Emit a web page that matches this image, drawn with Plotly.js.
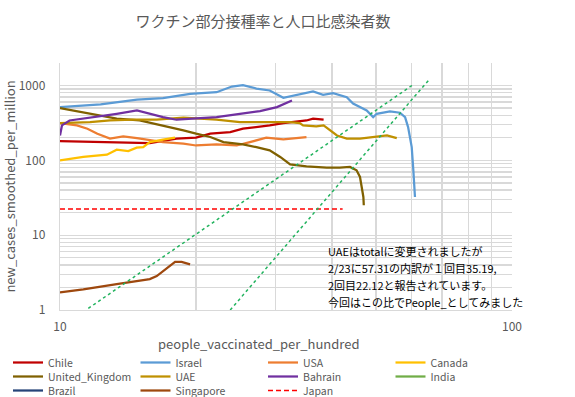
<!DOCTYPE html>
<html>
<head>
<meta charset="utf-8">
<script src="https://cdn.plot.ly/plotly-3.0.1.min.js"></script>
<style>html,body{margin:0;padding:0;background:#fff;}#chart{width:575px;height:397px;}</style>
</head>
<body>
<div id="chart"></div>
<script>
// ---- data ----
const chileX = [10, 12.26, 15.8, 18.1, 20.0, 21.5, 23.8, 25.4, 27.2, 29.1, 31.2, 33.4, 35.1, 36.3, 38.3];
const chileY = [181, 175, 170, 195, 201, 227, 238, 265, 278, 293, 314, 331, 341, 360, 349];

const israelX = [10, 12.3, 14.8, 16.9, 19.4, 22.2, 24.0, 25.4, 27.2, 29.1, 31.2, 33.4, 36.3, 38.2, 40.2, 43.1, 44.5, 47.7, 49.3, 50.2, 53.7, 56.5, 58.0, 58.9, 60.0, 60.5, 61.0];
const israelY = [514, 558, 650, 677, 775, 814, 970, 1009, 912, 858, 685, 751, 832, 751, 789, 698, 575, 464, 378, 419, 450, 433, 378, 278, 150, 73.6, 32.4];

const usaX = [10, 10.9, 11.5, 12.1, 12.9, 13.8, 14.8, 15.8, 16.9, 18.75, 20.0, 22.2, 24.6, 26.3, 28.6, 31.2, 33.9, 35.1];
const usaY = [314, 293, 265, 227, 195, 209, 198, 185, 175, 167, 158, 163, 158, 175, 201, 190, 198, 205];

const canadaX = [10, 11.26, 12.7, 13.35, 14.16, 14.78, 15.28, 15.8, 16.9, 17.97];
const canadaY = [100, 111, 119, 139, 133, 148, 150, 175, 189, 201];

const ukX = [10, 11.65, 13.35, 15.0, 16.9, 18.75, 20.0, 21.5, 23.0, 25.4, 27.2, 29.1, 30.7, 32.3, 35.1, 38.9, 41.6, 43.8, 45.3, 46.1, 46.5, 46.9, 47.0];
const ukY = [498, 419, 360, 341, 293, 251, 227, 205, 175, 163, 150, 136, 111, 88.4, 83, 80, 80, 81.5, 73.6, 60, 44, 32.4, 25.1];

const uaeX = [10, 11.65, 12.9, 14.5, 16.37, 18.75, 20.4, 22.2, 25.0, 28.1, 32.3, 33.9, 34.5, 36.9, 38.3, 41.0, 43.1, 46.1, 50.2, 52.9, 55.6];
const uaeY = [314, 324, 341, 349, 349, 371, 360, 349, 324, 321, 324, 314, 293, 284, 293, 215, 195, 195, 205, 215, 198];

const bahrainX = [10, 10.1, 10.5, 11.65, 13.35, 14.8, 15.8, 16.9, 18.1, 19.7, 22.2, 25.0, 27.7, 30.2, 32.6];
const bahrainY = [215, 293, 341, 371, 419, 464, 419, 378, 349, 360, 378, 419, 454, 514, 631];

// India and Brazil lie left of the visible range (below 10 per hundred), so only their legend entries show
const indiaX = [0.6, 0.9, 1.2];
const indiaY = [9.5, 9.8, 10.3];
const brazilX = [2.5, 3.2, 3.9];
const brazilY = [235, 250, 260];

const singaporeX = [10, 11.26, 13.35, 15.8, 16.37, 17.2, 17.97, 18.58, 19.4];
const singaporeY = [1.72, 1.89, 2.22, 2.59, 2.84, 3.6, 4.4, 4.4, 4.07];

const japanX = [10, 42.2];
const japanY = [22.4, 22.4];

const guideAX = [11.55, 60.5];
const guideAY = [1.05, 1031];
const guideBX = [23.8, 65.3];
const guideBY = [1.0, 1166];

const noteLines = [
  "UAEはtotalに変更されましたが",
  "2/23に57.31の内訳が１回目35.19,",
  "2回目22.12と報告されています。",
  "今回はこの比でPeople_としてみました"
];

// ---- traces ----
function line(name, x, y, color, legend, extra) {
  return Object.assign({type: 'scatter', mode: 'lines', name: name, x: x, y: y, legend: legend,
    line: {color: color, width: 2.25}}, extra || {});
}
const traces = [
  line('Chile', chileX, chileY, '#C00000', 'legend'),
  line('Israel', israelX, israelY, '#5B9BD5', 'legend'),
  line('USA', usaX, usaY, '#ED7D31', 'legend'),
  line('Canada', canadaX, canadaY, '#FFC000', 'legend'),
  line('United_Kingdom', ukX, ukY, '#7F6000', 'legend2'),
  line('UAE', uaeX, uaeY, '#BF9000', 'legend2'),
  line('Bahrain', bahrainX, bahrainY, '#7030A0', 'legend2'),
  line('India', indiaX, indiaY, '#70AD47', 'legend2'),
  line('Brazil', brazilX, brazilY, '#264478', 'legend3'),
  line('Singapore', singaporeX, singaporeY, '#9E480E', 'legend3'),
  line('Japan', japanX, japanY, '#FF0000', 'legend3', {line: {color: '#FF0000', width: 1.5, dash: '5px,3px'}}),
  line('guideA', guideAX, guideAY, '#22B35E', 'legend', {showlegend: false, line: {color: '#22B35E', width: 1.5, dash: '3px,3px'}}),
  line('guideB', guideBX, guideBY, '#22B35E', 'legend', {showlegend: false, line: {color: '#22B35E', width: 1.5, dash: '3px,3px'}})
];

const minorX = [], minorY = [];
for (let k = 2; k <= 9; k++) { minorX.push(10 * k); }
for (const d of [1, 10, 100, 1000]) { for (let k = 2; k <= 9; k++) { if (d * k <= 2000) minorY.push(d * k); } }

const grid = '#d9d9d9';
const cjk = '"Noto Sans CJK JP", sans-serif';

const annotations = noteLines.map((t, i) => ({
  xref: 'paper', yref: 'paper', x: (326 - 60) / 452, y: (310 - (250.5 + i * 17.2)) / 247,
  xanchor: 'left', yanchor: 'middle', showarrow: false, align: 'left',
  text: t, font: {family: cjk, size: 11, color: '#000'}
}));
annotations.push({
  xref: 'paper', yref: 'paper', x: (259 - 60) / 452, y: -(343 - 310) / 247,
  xanchor: 'center', yanchor: 'middle', showarrow: false,
  text: 'people_vaccinated_per_hundred', font: {family: cjk, size: 13, color: '#595959'}
});

function legendRow(topPx) {
  return {orientation: 'h', x: (8 - 60) / 452, xanchor: 'left', y: -(topPx - 310) / 247, yanchor: 'top',
    entrywidth: 82.5, entrywidthmode: 'pixels', itemwidth: 30, borderwidth: 0,
    font: {family: cjk, size: 10.5, color: '#595959'}, bgcolor: 'rgba(0,0,0,0)'};
}

const layout = {
  width: 575, height: 397,
  margin: {l: 60, r: 63, t: 63, b: 87, autoexpand: false},
  paper_bgcolor: '#fff', plot_bgcolor: '#fff',
  title: {text: 'ワクチン部分接種率と人口比感染者数', x: 263 / 575, xanchor: 'center', y: 1 - 22 / 397, yanchor: 'middle',
    font: {family: cjk, size: 15, color: '#595959'}},
  xaxis: {type: 'log', range: [1, 2], tickvals: [10, 100], ticktext: ['10', '100'],
    showgrid: true, gridcolor: grid, gridwidth: 1.3,
    minor: {tickvals: minorX, showgrid: true, gridcolor: grid, gridwidth: 1.3, ticks: ''},
    showline: true, linecolor: grid, linewidth: 1.3, zeroline: false, ticks: '', ticklabelstandoff: 5,
    tickfont: {family: cjk, size: 12, color: '#595959'}},
  yaxis: {type: 'log', range: [0, Math.log10(2000)], tickvals: [1, 10, 100, 1000], ticktext: ['1', '10', '100', '1000'],
    showgrid: true, gridcolor: grid, gridwidth: 1.3,
    minor: {tickvals: minorY, showgrid: true, gridcolor: grid, gridwidth: 1.3, ticks: ''},
    showline: true, linecolor: grid, linewidth: 1.3, zeroline: false, ticks: '', ticklabelstandoff: 11,
    title: {text: 'new_cases_smoothed_per_million', font: {family: cjk, size: 13, color: '#595959'}, standoff: 8},
    tickfont: {family: cjk, size: 12, color: '#595959'}},
  showlegend: true,
  legend: legendRow(348),
  legend2: legendRow(362),
  legend3: legendRow(376),
  annotations: annotations
};

Plotly.newPlot('chart', traces, layout, {displayModeBar: false, staticPlot: true});
</script>
</body>
</html>
